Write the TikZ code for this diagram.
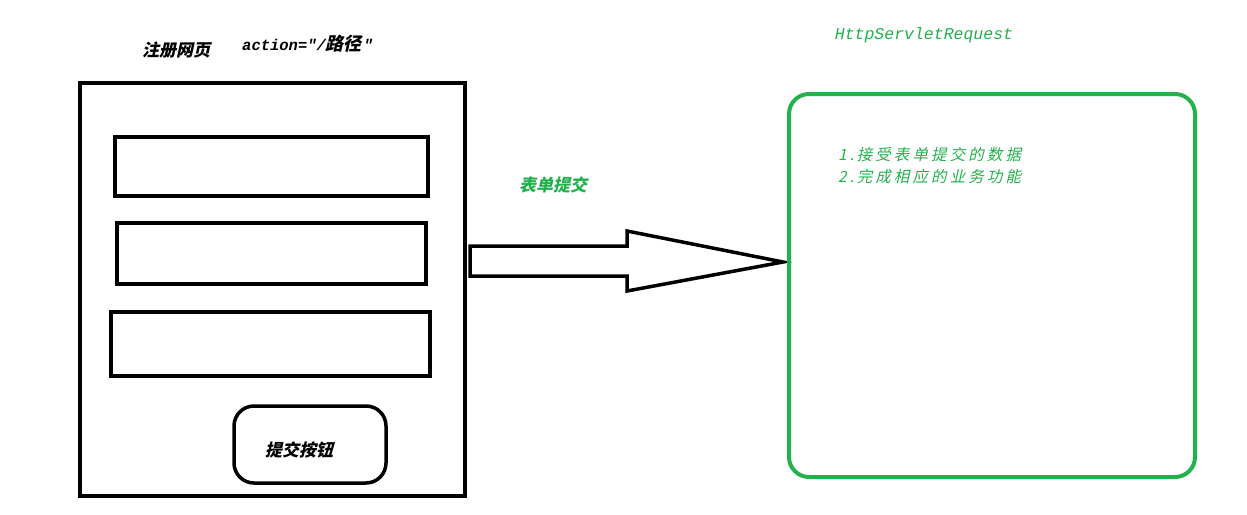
\documentclass[tikz,border=0pt]{standalone}
\usepackage{fontspec}
\setmonofont{Liberation Mono}
\newfontfamily\cjk[FakeSlant=0.22]{Noto Sans CJK SC}
\newfontfamily\cjkls[FakeSlant=0.22,LetterSpace=20]{Noto Sans CJK SC}
\definecolor{pgreen}{HTML}{22B14C}
\begin{document}
\begin{tikzpicture}[x=1pt,y=-1pt,
  blk/.style={draw=black,line width=3.5pt},
  grn/.style={draw=pgreen,line width=4pt},
  lbl/.style={inner sep=0pt,font=\cjk\bfseries\fontsize{17}{19}\selectfont},
  mono/.style={inner sep=0pt,font=\ttfamily\itshape\fontsize{16.5}{18}\selectfont}]
\useasboundingbox (0,0) rectangle (1247,514);
% page
\node[blk,minimum width=385pt,minimum height=413pt,inner sep=0pt] (page) at (272.5,289.5) {};
\node[blk,minimum width=313pt,minimum height=59pt,inner sep=0pt] (f1) at (271.5,166.5) {};
\node[blk,minimum width=309pt,minimum height=61pt,inner sep=0pt] (f2) at (271.5,253.5) {};
\node[blk,minimum width=319pt,minimum height=64pt,inner sep=0pt] (f3) at (270.5,344) {};
\node[blk,rounded corners=20pt,minimum width=152pt,minimum height=77pt,inner sep=0pt] (btn) at (310,444.5) {};
\node[lbl] (btnt) at (299,450) {提交按钮};
\node[lbl] (title) at (176,50) {注册网页};
\node[inner sep=0pt,anchor=west] (act) at (242,44) {{\ttfamily\itshape\bfseries\fontsize{15.5}{17}\selectfont action="/}{\cjk\bfseries\fontsize{18}{20}\selectfont 路径}\,{\ttfamily\itshape\bfseries\fontsize{15.5}{17}\selectfont "}};
% arrow
\coordinate (a0) at (470,246);
\draw[line width=3.5pt,line join=miter,fill=white]
  (a0) -- (627,246) -- (627,231) -- (783,262) -- (627,291) -- (627,276) -- (470,276) -- cycle;
\node[lbl,text=pgreen] (sub) at (553,185) {表单提交};
% servlet
\node[grn,rounded corners=20pt,minimum width=406pt,minimum height=383pt,inner sep=0pt] (srv) at (992,285.5) {};
\node[mono,text=pgreen] (srvt) at (924,35) {HttpServletRequest};
\node[inner sep=0pt,anchor=west,text=pgreen,font=\cjkls\fontsize{15.5}{17}\selectfont] (l1) at (838,155) {1.\,接受表单提交的数据};
\node[inner sep=0pt,anchor=west,text=pgreen,font=\cjkls\fontsize{15.5}{17}\selectfont] (l2) at (838,177) {2.\,完成相应的业务功能};
\end{tikzpicture}
\end{document}
